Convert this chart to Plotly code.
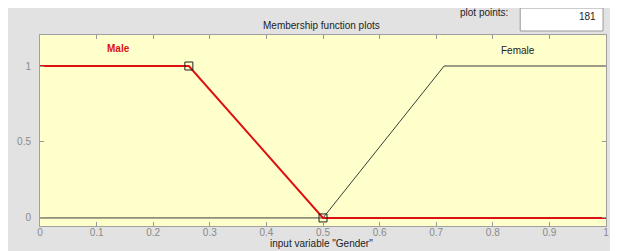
import plotly.graph_objects as go

# Data
male_x = [0.0, 0.263, 0.5, 1.0]
male_y = [1, 1, 0, 0]
female_x = [0.0, 0.5, 0.714, 1.0]
female_y = [0, 0, 1, 1]
selected_x = [0.263, 0.5]
selected_y = [1, 0]
x_ticks = [0, 0.1, 0.2, 0.3, 0.4, 0.5, 0.6, 0.7, 0.8, 0.9, 1]
x_tick_text = ["0", "0.1", "0.2", "0.3", "0.4", "0.5", "0.6", "0.7", "0.8", "0.9", "1"]
y_ticks = [0, 0.5, 1]
y_tick_text = ["0", "0.5", "1"]

# The page body adds an 8px offset; figure sized to fit window
OFF = 8
W, H = 618 - OFF, 251 - OFF
# plot area in page pixels
PL, PR, PT, PB = 35, 609, 35, 226
L, R, T, B = PL - OFF, PR - OFF, PT - OFF, PB - OFF

def px(x):  # page pixel -> paper x
    return (x - PL) / (PR - PL)

def py(y):  # page pixel -> paper y
    return (PB - y) / (PB - PT)

FONT = "Liberation Sans, Arial, sans-serif"
GRAY_BG = "#e2e2e2"

fig = go.Figure()
fig.add_trace(go.Scatter(x=female_x, y=female_y, mode="lines",
                         line=dict(color="#3a3a3a", width=1), hoverinfo="skip"))
fig.add_trace(go.Scatter(x=male_x, y=male_y, mode="lines",
                         line=dict(color="#dd1111", width=2), hoverinfo="skip"))
fig.add_trace(go.Scatter(x=selected_x, y=selected_y, mode="markers",
                         marker=dict(symbol="square-open", size=8, color="#222",
                                     line=dict(width=1)), hoverinfo="skip"))

axis_common = dict(showgrid=False, zeroline=False, showline=True, linecolor="#a0a0a0",
                   linewidth=1, mirror="ticks", ticks="inside", ticklen=4,
                   tickcolor="#999999")

fig.update_layout(
    width=W, height=H,
    margin=dict(l=L, r=W - R, t=T, b=H - B, pad=0),
    paper_bgcolor=GRAY_BG, plot_bgcolor="#ffffcc",
    showlegend=False,
    xaxis=dict(range=[0, 1], tickvals=x_ticks, ticktext=x_tick_text,
               tickfont=dict(family=FONT, size=10, color="#8a8a8a"),
               ticklabelstandoff=-3, **axis_common),
    yaxis=dict(range=[-0.053, 1.204], tickvals=y_ticks, ticktext=y_tick_text,
               tickfont=dict(family=FONT, size=10, color="#8a8a8a"),
               ticklabelstandoff=6, **axis_common),
    font=dict(family=FONT, size=10, color="#000"),
)

shapes = [
    # plot points text box
    dict(type="rect", xref="paper", yref="paper", x0=px(522), x1=px(606), y0=py(31), y1=py(8),
         fillcolor="white", line=dict(color="#9a9a9a", width=1), layer="above"),
]
fig.update_layout(shapes=shapes)

ann = [
    dict(text="plot points:", x=px(512), y=py(13), xref="paper", yref="paper",
         xanchor="right", yanchor="middle", showarrow=False,
         font=dict(size=10, color="#222")),
    dict(text="181", x=px(601), y=py(16), xref="paper", yref="paper",
         xanchor="right", yanchor="middle", showarrow=False,
         font=dict(size=10, color="#222")),
    dict(text="Membership function plots", x=px(320), y=py(25), xref="paper", yref="paper",
         xanchor="center", yanchor="middle", showarrow=False,
         font=dict(size=10, color="#222")),
    dict(text="input variable \"Gender\"", x=px(320), y=py(243), xref="paper", yref="paper",
         xanchor="center", yanchor="middle", showarrow=False,
         font=dict(size=10, color="#222")),
    dict(text="<b>Male</b>", x=px(115), y=py(48), xref="paper", yref="paper",
         xanchor="center", yanchor="middle", showarrow=False,
         font=dict(size=10, color="#dd1111")),
    dict(text="Female", x=px(520), y=py(50), xref="paper", yref="paper",
         xanchor="center", yanchor="middle", showarrow=False,
         font=dict(size=10, color="#222")),
]
fig.update_layout(annotations=ann)

fig.write_html("out.html")
